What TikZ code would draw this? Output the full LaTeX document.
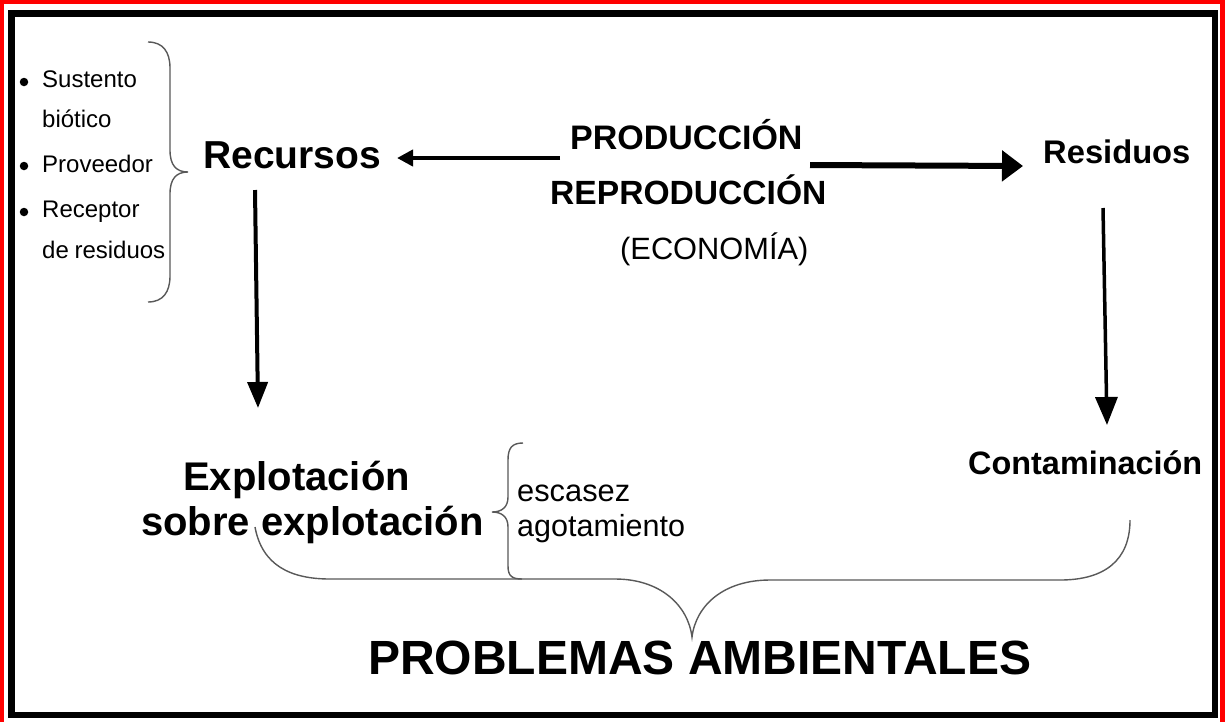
\documentclass[tikz,border=0pt]{standalone}
\usepackage{fontspec}
\setmainfont{Liberation Sans}
\usetikzlibrary{arrows.meta}
\begin{document}
\begin{tikzpicture}[x=1pt,y=-1pt,
  lbl/.style={inner sep=0pt, anchor=base west, text=black},
  fs/.style={font=\fontsize{#1}{#1}\selectfont},
  fsb/.style={font=\fontsize{#1}{#1}\selectfont\bfseries},
  bracel/.style={draw=black!65, line width=1.4pt},
  bul/.style={circle, fill=black, inner sep=0pt, minimum size=8.5pt}]
\useasboundingbox (0,0) rectangle (1225,721);
\fill[white] (0,0) rectangle (1225,721);
% frames
\draw[red, line width=4.5pt] (2.2,2.2) rectangle (1222.5,735);
\draw[black, line width=6.5pt] (11.5,13.5) rectangle (1215,715);

% left list
\node[bul] (b1) at (24,82) {};
\node[bul] (b2) at (24,166) {};
\node[bul] (b3) at (24,212) {};
\node[lbl,fs=24] (l1) at (42,87) {Sustento};
\node[lbl,fs=24] (l2) at (42,127) {biótico};
\node[lbl,fs=24] (l3) at (42,172) {Proveedor};
\node[lbl,fs=24] (l4) at (42,217) {Receptor};
\node[lbl,fs=24] (l5) at (42,258) {de\kern-1pt\ residuos};

% left brace
\draw[bracel] (148,42) .. controls (163,42) and (170,52) .. (170,68) -- (170,150)
  .. controls (170,165) and (176,172) .. (188,172)
  .. controls (176,172) and (170,179) .. (170,194) -- (170,276)
  .. controls (170,292) and (163,302) .. (148,302);

% main texts
\node[lbl,fsb=39] (rec) at (203,168) {Recursos};
\node[lbl,fsb=34] (prod) at (570,149) {PRODUCCIÓN};
\node[lbl,fsb=33.6] (reprod) at (550,204) {REPRODUCCIÓN};
\node[lbl,fs=30.8] (econ) at (620,259) {(ECONOMÍA)};
\node[lbl,fsb=32.7] (res) at (1043,163) {Residuos};
\node[lbl,fsb=32.4] (cont) at (968,474) {Contaminación};
\node[lbl,fsb=40] (expl) at (183,490) {Explotación};
\node[lbl,fsb=40] (sobre) at (141,535) {sobre explotación};
\node[lbl,fs=30.8] (esc) at (517,501) {escasez};
\node[lbl,fs=30.5] (ago) at (517,536) {agotamiento};
\node[lbl,fsb=48] (prob) at (368,674) {PROBLEMAS AMBIENTALES};

% arrow end points
\coordinate (a1s) at (560,158);
\coordinate (a1e) at (397,158);
\coordinate (a2s) at (810,165);
\coordinate (a2e) at (1023,166);
\coordinate (a3s) at (255,190);
\coordinate (a3e) at (258,408);
\coordinate (a4s) at (1103,208);
\coordinate (a4e) at (1107,425);

\draw[line width=4pt, -{Triangle[length=16pt,width=16pt]}] (a1s) -- (a1e);
\draw[line width=6pt, -{Triangle[length=21pt,width=30pt]}] (a2s) -- (a2e);
\draw[line width=4pt, -{Triangle[length=26pt,width=20pt]}] (a3s) -- (a3e);
\draw[line width=3.5pt, -{Triangle[length=28pt,width=22pt]}] (a4s) -- (a4e);

% small brace
\draw[bracel] (523,443) .. controls (512,443) and (508,448) .. (508,460) -- (508,497)
  .. controls (508,507) and (502,512) .. (492,512)
  .. controls (502,512) and (508,517) .. (508,527) -- (508,566)
  .. controls (508,576) and (512,579) .. (522,579);

% big bottom brace
\draw[bracel] (255,527) .. controls (262,565) and (290,579) .. (330,579) -- (615,579)
  .. controls (660,579) and (688,605) .. (692,637)
  .. controls (696,605) and (724,580) .. (770,580) -- (1060,580)
  .. controls (1105,580) and (1130,560) .. (1130,520);
\end{tikzpicture}
\end{document}
